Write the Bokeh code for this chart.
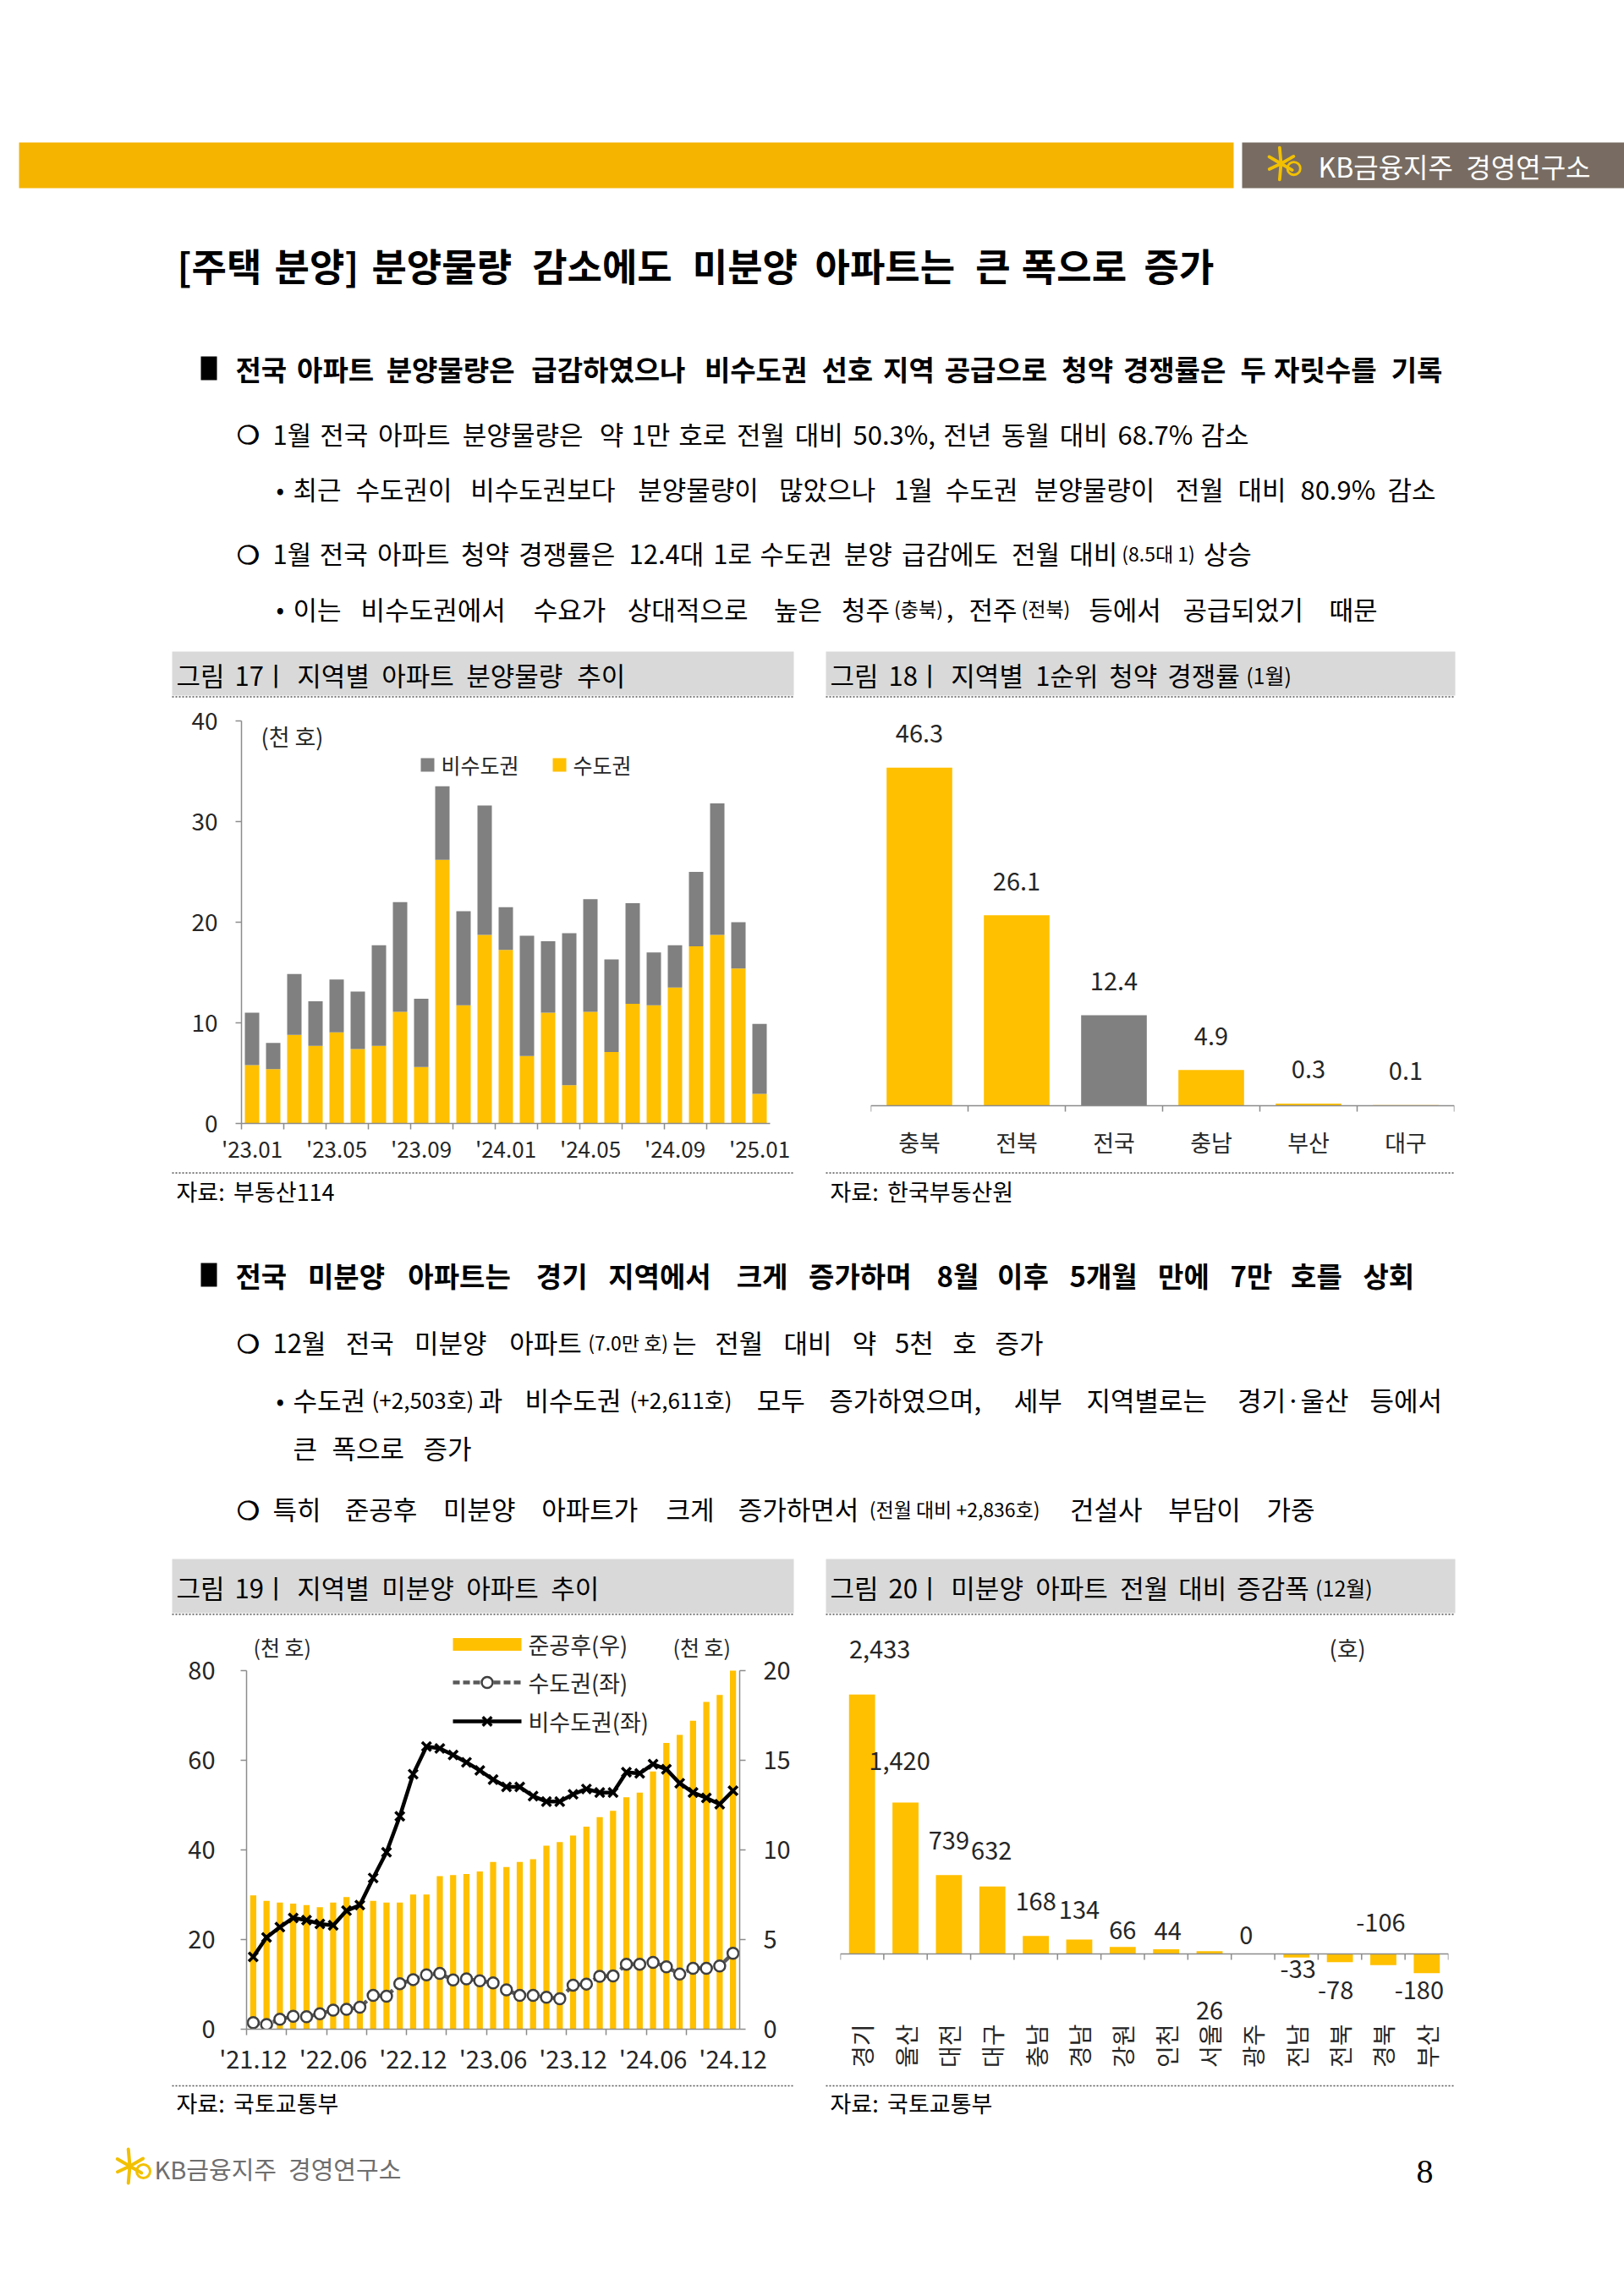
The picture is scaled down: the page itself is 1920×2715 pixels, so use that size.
import math
import numpy as np
from bokeh.plotting import figure
from bokeh.layouts import column, row
from bokeh.models import Range1d, FixedTicker, Span, LinearAxis, ColumnDataSource
from bokeh.core.properties import value
from bokeh.embed import file_html
from bokeh.resources import INLINE

FONT = "Noto Sans CJK KR"
SERIF = "Liberation Serif"
YEL = "#FFC000"
GRY = "#808080"
BAR_YEL = "#F5B400"
LOGO_GRAY = "#786C62"
HEAD_GRAY = "#D9D9D9"
CTXT = "#262626"
AXC = "#8C8C8C"

# ------------------------------------------------------------------ data
c17_months = ["'23.01", "'23.02", "'23.03", "'23.04", "'23.05", "'23.06", "'23.07", "'23.08",
              "'23.09", "'23.10", "'23.11", "'23.12", "'24.01", "'24.02", "'24.03", "'24.04",
              "'24.05", "'24.06", "'24.07", "'24.08", "'24.09", "'24.10", "'24.11", "'24.12", "'25.01"]
c17_series = ["비수도권", "수도권"]
c17_metro = [5.8, 5.4, 8.8, 7.7, 9.05, 7.4, 7.7, 11.1, 5.6, 26.2, 11.75, 18.75, 17.25,
             6.7, 11.0, 3.8, 11.1, 7.1, 11.9, 11.75, 13.5, 17.6, 18.75, 15.4, 2.95]
c17_nonmetro = [5.2, 2.6, 6.05, 4.45, 5.25, 5.7, 10.0, 10.9, 6.8, 7.3, 9.35, 12.85, 4.25,
                11.95, 7.1, 15.1, 11.2, 9.2, 10.0, 5.25, 4.2, 7.4, 13.05, 4.6, 6.95]

c18_regions = ["충북", "전북", "전국", "충남", "부산", "대구"]
c18_values = [46.3, 26.1, 12.4, 4.9, 0.3, 0.1]

c19_months = ["'21.12",
              "'22.01", "'22.02", "'22.03", "'22.04", "'22.05", "'22.06",
              "'22.07", "'22.08", "'22.09", "'22.10", "'22.11", "'22.12",
              "'23.01", "'23.02", "'23.03", "'23.04", "'23.05", "'23.06",
              "'23.07", "'23.08", "'23.09", "'23.10", "'23.11", "'23.12",
              "'24.01", "'24.02", "'24.03", "'24.04", "'24.05", "'24.06",
              "'24.07", "'24.08", "'24.09", "'24.10", "'24.11", "'24.12"]
c19_series = ["준공후(우)", "수도권(좌)", "비수도권(좌)"]
c19_completed = [7.47, 7.16, 7.06, 7.00, 6.92, 6.80, 7.06, 7.37, 7.16, 7.16, 7.06, 7.06, 7.51,
                 7.51, 8.54, 8.60, 8.66, 8.80, 9.33, 9.05, 9.33, 9.48, 10.24, 10.44, 10.80,
                 11.30, 11.83, 12.18, 12.94, 13.20, 14.37, 15.97, 16.42, 17.20, 18.26, 18.64, 21.48]
c19_metro = [1.47, 1.06, 2.21, 2.87, 2.78, 3.44, 4.26, 4.42, 4.91, 7.53, 7.37, 10.16, 11.06,
             12.12, 12.45, 10.98, 11.22, 10.81, 10.32, 8.76, 7.53, 7.53, 7.13, 6.80, 9.83,
             10.07, 11.79, 11.87, 14.50, 14.50, 14.90, 13.92, 12.29, 13.60, 13.60, 14.09, 16.95]
c19_nonmetro = [16.13, 20.47, 22.77, 24.82, 24.33, 23.50, 23.18, 26.45, 27.68, 33.74, 39.48, 47.50, 56.90,
                63.06, 62.65, 61.18, 59.54, 57.74, 55.69, 54.05, 54.05, 52.00, 50.78, 50.78, 52.40,
                53.60, 52.80, 52.80, 57.33, 57.08, 59.13, 58.00, 54.87, 52.80, 51.60, 50.20, 53.20]

c20_regions = ["경기", "울산", "대전", "대구", "충남", "경남", "강원", "인천", "서울", "광주",
               "전남", "전북", "경북", "부산"]
c20_values = [2433, 1420, 739, 632, 168, 134, 66, 44, 26, 0, -33, -78, -106, -180]

# label placement (screen px offsets, style only)
c20_label_dx = [21, -7, 0, -1, 0, 0, 0, 2, 0, -8, 2, -5, -3, -9]
c20_label_dy = [-53, -49, -41, -42, -41, -35, -20, -21, 70, -22, 14, 33, -50, 20]


# ------------------------------------------------------------------ text helpers
def char_w(ch):
    o = ord(ch)
    if 0xAC00 <= o <= 0xD7A3 or 0x3130 <= o <= 0x318F or 0x1100 <= o <= 0x11FF:
        return 1.0
    if ch == " ":
        return 0.224
    if ch.isdigit():
        return 0.58
    if ch in ".,:":
        return 0.28
    if ch in "()[]":
        return 0.34
    if ch == "%":
        return 0.92
    if ch == "+":
        return 0.58
    if ch == "·":
        return 0.28
    if ch == "'":
        return 0.22
    if ch.isupper():
        return 0.62
    return 0.5


def tw(s, size):
    return sum(char_w(c) for c in s) * size


def layout_line(runs, x0, x1=None):
    base = runs[0][1]
    words = [[]]
    for txt, size in runs:
        if size < base:
            words[-1].append((txt, size))
            continue
        parts = txt.split(" ")
        for k, part in enumerate(parts):
            if k > 0:
                words.append([])
            if part:
                words[-1].append((part, size))
    words = [w for w in words if w]
    widths = [sum(tw(t, s) for t, s in w) for w in words]
    if x1 is None or len(words) < 2:
        gap = 0.224 * base
    else:
        gap = (x1 - x0 - sum(widths)) / (len(words) - 1)
        gap = max(gap, 0.2 * base)
    out = []
    x = x0
    for w, wd in zip(words, widths):
        for t, s in w:
            out.append((x, t, s))
            x += tw(t, s)
        x += gap
    return out


def draw_lines(p, lines, color="black"):
    for bold in (False, True):
        xs, ys, ts, fs = [], [], [], []
        for (x0, x1, y, b, runs) in lines:
            if b != bold:
                continue
            for (x, t, s) in layout_line(runs, x0, x1):
                xs.append(x)
                ys.append(y)
                ts.append(t)
                fs.append("%dpx" % s)
        if not xs:
            continue
        src = ColumnDataSource(dict(x=xs, y=ys, text=ts, fs=fs))
        p.text(x="x", y="y", text="text", text_font_size="fs", source=src,
               text_font=value(FONT), text_font_style="bold" if bold else "normal",
               text_color=color, text_align="left", text_baseline="middle")


def deco(x0, x1, y0, y1):
    p = figure(width=x1 - x0, height=y1 - y0, x_range=Range1d(x0, x1), y_range=Range1d(y1, y0),
               x_axis_type=None, y_axis_type=None, output_backend="svg",
               toolbar_location=None, min_border=0)
    p.outline_line_color = None
    p.background_fill_color = "white"
    p.border_fill_color = "white"
    return p


def panel_header(p, x0, x1, ytop, ybot, runs):
    p.quad(left=x0, right=x1, top=ytop, bottom=ybot, fill_color=HEAD_GRAY, line_color=None)
    p.segment(x0=x0, y0=ybot + 1.5, x1=x1, y1=ybot + 1.5, line_dash="2 2",
              line_color="#555555", line_width=1.5)
    draw_lines(p, [(x0 + 5, None, (ytop + ybot) / 2 + 1, False, runs)])


def panel_footer(p, x0, x1, yline, ytext, txt_):
    p.segment(x0=x0, y0=yline, x1=x1, y1=yline, line_dash="2 2", line_color="#555555", line_width=1.5)
    draw_lines(p, [(x0 + 5, None, ytext, False, [(txt_, 27)])])


def kb_star(p, cx, cy, r, color):
    angs = [95, 150, 205, 265, 330, 30]
    lens = [1.0, 0.85, 0.8, 1.0, 0.8, 0.9]
    x1 = [cx + r * l * math.cos(math.radians(a)) for a, l in zip(angs, lens)]
    y1 = [cy - r * l * math.sin(math.radians(a)) for a, l in zip(angs, lens)]
    p.segment(x0=[cx] * 6, y0=[cy] * 6, x1=x1, y1=y1, line_color=color, line_width=r * 0.2,
              line_cap="round")
    p.scatter(x=[cx + 0.8 * r], y=[cy + 0.3 * r], marker="circle", size=r * 0.8,
              fill_color=None, line_color=color, line_width=r * 0.15)


def chart_fig(w, h, xr, yr, bl, br, bt, bb, y_axis=True):
    kw = {} if y_axis else {"y_axis_type": None}
    p = figure(width=w, height=h, x_range=Range1d(*xr), y_range=Range1d(*yr),
               output_backend="svg", toolbar_location=None,
               min_border_left=bl, min_border_right=br, min_border_top=bt, min_border_bottom=bb, **kw)
    p.grid.visible = False
    p.outline_line_color = None
    p.background_fill_color = "white"
    p.border_fill_color = "white"
    return p


def style_axis(ax, size):
    ax.axis_line_color = AXC
    ax.axis_line_width = 1.5
    ax.major_tick_line_color = AXC
    ax.major_tick_line_width = 1.5
    ax.minor_tick_line_color = AXC
    ax.minor_tick_line_width = 1.5
    ax.major_label_text_font = FONT
    ax.major_label_text_font_size = size
    ax.major_label_text_color = CTXT


def txt(p, xs, ys, texts, size, align="left", color=CTXT, style="normal"):
    p.text(x=xs, y=ys, text=texts, text_font=value(FONT), text_font_size=size,
           text_color=color, text_align=align, text_baseline="middle", text_font_style=style)


# page regions (reference pixel coordinates, page has no margin)
PX0, PX1, PMID = 0, 1920, 956
T_Y0, R1_Y0, M_Y0, R2_Y0, B_Y0, B_Y1 = 0, 825, 1380, 1911, 2460, 2712

# ------------------------------------------------------------------ top block
pT = deco(PX0, PX1, T_Y0, R1_Y0)
pT.quad(left=22, right=1458, top=168, bottom=222, fill_color=BAR_YEL, line_color=None)
pT.quad(left=1468, right=1920, top=168, bottom=222, fill_color=LOGO_GRAY, line_color=None)
kb_star(pT, 1514, 193, 19, "#F2C000")
draw_lines(pT, [(1558, None, 195, False, [("KB금융지주 경영연구소", 32)])], color="white")

pT.quad(left=[237], right=[256], top=[421], bottom=[449], fill_color="black", line_color=None)
for yb in (511.5, 653):
    txt(pT, [279], [yb], ["❍"], "30px", color="black", style="bold")
for yb in (577, 718.5):
    txt(pT, [326], [yb], ["•"], "28px", color="black")

draw_lines(pT, [
    (209, 1442, 313, True, [("[주택 분양] 분양물량 감소에도 미분양 아파트는 큰 폭으로 증가", 45)]),
    (278, 1702, 435, True, [("전국 아파트 분양물량은 급감하였으나 비수도권 선호 지역 공급으로 청약 경쟁률은 두 자릿수를 기록", 33)]),
    (322, 1481, 511.5, False, [("1월 전국 아파트 분양물량은 약 1만 호로 전월 대비 50.3%, 전년 동월 대비 68.7% 감소", 31)]),
    (346, 1702, 577, False, [("최근 수도권이 비수도권보다 분양물량이 많았으나 1월 수도권 분양물량이 전월 대비 80.9% 감소", 31)]),
    (322, 1481, 653, False, [("1월 전국 아파트 청약 경쟁률은 12.4대 1로 수도권 분양 급감에도 전월 대비", 31),
                             ("(8.5대 1)", 23), (" 상승", 31)]),
    (346, 1633, 718.5, False, [("이는 비수도권에서 수요가 상대적으로 높은 청주", 31), ("(충북)", 23),
                               (", 전주", 31), ("(전북)", 23), (" 등에서 공급되었기 때문", 31)]),
])
panel_header(pT, 203, 938, 770, 822, [("그림 17ㅣ 지역별 아파트 분양물량 추이", 31)])
panel_header(pT, 976, 1720, 770, 822, [("그림 18ㅣ 지역별 1순위 청약 경쟁률", 31), ("(1월)", 25)])

# ------------------------------------------------------------------ chart 17
n17 = len(c17_months)
FL17, FR17, FT17, FB17, Y40 = 285, 910, 840, 1328, 852
ppu17 = (FB17 - Y40) / 40.0
ppx17 = (FR17 - FL17) / n17
p17 = chart_fig(PMID - PX0, M_Y0 - R1_Y0, (-0.5, n17 - 0.5), (0, (FB17 - FT17) / ppu17),
                FL17 - PX0, PMID - FR17, FT17 - R1_Y0, M_Y0 - FB17)
src17 = ColumnDataSource(dict(x=list(range(n17)), metro=c17_metro, nonmetro=c17_nonmetro))
p17.vbar_stack(["metro", "nonmetro"], x="x", width=0.68, source=src17,
               fill_color=[YEL, GRY], line_color=None)
style_axis(p17.yaxis[0], "28px")
p17.yaxis.ticker = FixedTicker(ticks=[0, 10, 20, 30, 40])
p17.yaxis.bounds = (0, 40)
p17.yaxis.major_tick_out = 7
p17.yaxis.major_tick_in = 0
p17.yaxis.major_label_standoff = 21
ax = p17.xaxis[0]
style_axis(ax, "26px")
ticks17 = list(range(0, n17, 4))
ax.ticker = FixedTicker(ticks=ticks17, minor_ticks=[i - 0.5 for i in range(0, n17 - 1, 2)])
ax.major_label_overrides = {i: c17_months[i] for i in ticks17}
ax.major_tick_line_color = None
ax.major_tick_out = 0
ax.minor_tick_out = 7
ax.minor_tick_in = 0
ax.major_label_standoff = 3


def fx17(px):
    return -0.5 + (px - FL17) / ppx17


def fy17(py):
    return (FB17 - py) / ppu17


txt(p17, [fx17(308)], [fy17(870)], ["(천 호)"], "27px")
p17.scatter(x=[fx17(505), fx17(661)], y=[fy17(904)] * 2, marker="square", size=16,
            fill_color=[GRY, YEL], line_color=None)
txt(p17, [fx17(521), fx17(677)], [fy17(903)] * 2, c17_series, "25px")

# ------------------------------------------------------------------ chart 18
n18 = len(c18_regions)
FL18, FR18, FT18, FB18, Y0_18 = 1029, 1719, FT17, FB17, 1307
ppu18 = 399.7 / 46.3
p18 = chart_fig(PX1 - PMID, M_Y0 - R1_Y0, (-0.5, n18 - 0.5),
                (-(FB18 - Y0_18) / ppu18, (Y0_18 - FT18) / ppu18),
                FL18 - PMID, PX1 - FR18, FT18 - R1_Y0, M_Y0 - FB18, y_axis=False)
colors18 = [GRY if r == "전국" else YEL for r in c18_regions]
src18 = ColumnDataSource(dict(x=list(range(n18)), v=c18_values, c=colors18,
                              lab=["%.1f" % v for v in c18_values]))
p18.vbar(x="x", top="v", bottom=0, width=0.675, fill_color="c", line_color=None, source=src18)
p18.add_layout(Span(location=0, dimension="width", line_color=AXC, line_width=1.5))
p18.segment(x0=[i - 0.5 for i in range(n18 + 1)], y0=0, x1=[i - 0.5 for i in range(n18 + 1)],
            y1=-7 / ppu18, line_color=AXC, line_width=1.5)
p18.text(x="x", y="v", text="lab", source=src18, y_offset=-40, text_font=value(FONT),
         text_font_size="29px", text_color=CTXT, text_align="center", text_baseline="middle")
ax = p18.xaxis[0]
style_axis(ax, "27px")
ax.axis_line_color = None
ax.major_tick_line_color = None
ax.minor_tick_line_color = None
ax.major_tick_out = 0
ax.minor_tick_out = 0
ax.ticker = FixedTicker(ticks=list(range(n18)))
ax.major_label_overrides = {i: c18_regions[i] for i in range(n18)}
ax.major_label_standoff = 2

# ------------------------------------------------------------------ middle block
pM = deco(PX0, PX1, M_Y0, R2_Y0)
panel_footer(pM, 203, 938, 1386.5, 1408, "자료: 부동산114")
panel_footer(pM, 976, 1720, 1386.5, 1408, "자료: 한국부동산원")
pM.quad(left=[237], right=[256], top=[1493], bottom=[1521], fill_color="black", line_color=None)
for yb in (1586, 1783):
    txt(pM, [279], [yb], ["❍"], "30px", color="black", style="bold")
txt(pM, [326], [1654], ["•"], "28px", color="black")
draw_lines(pM, [
    (278, 1677, 1507, True, [("전국 미분양 아파트는 경기 지역에서 크게 증가하며 8월 이후 5개월 만에 7만 호를 상회", 33)]),
    (322, 1238, 1586, False, [("12월 전국 미분양 아파트", 31), ("(7.0만 호)", 23), ("는 전월 대비 약 5천 호 증가", 31)]),
    (346, 1712, 1654, False, [("수도권", 31), ("(+2,503호)", 26), ("과 비수도권", 31), ("(+2,611호)", 26),
                              (" 모두 증가하였으며, 세부 지역별로는 경기·울산 등에서", 31)]),
    (346, 562, 1711, False, [("큰 폭으로 증가", 31)]),
    (322, 1559, 1783, False, [("특히 준공후 미분양 아파트가 크게 증가하면서", 31), ("(전월 대비 +2,836호)", 23),
                              (" 건설사 부담이 가중", 31)]),
])
panel_header(pM, 203, 938, 1843, 1907, [("그림 19ㅣ 지역별 미분양 아파트 추이", 31)])
panel_header(pM, 976, 1720, 1843, 1907, [("그림 20ㅣ 미분양 아파트 전월 대비 증감폭", 31), ("(12월)", 25)])

# ------------------------------------------------------------------ chart 19
n19 = len(c19_months)
FL19, FR19, FT19, FB19, Y80 = 291, 874, 1925, 2399, 1975
LEFT_MAX, RIGHT_MAX = 80, 20
ppu19L = (FB19 - Y80) / LEFT_MAX
ppu19R = (FB19 - Y80) / RIGHT_MAX
ppx19 = (FR19 - FL19) / n19
p19 = chart_fig(PMID - PX0, B_Y0 - R2_Y0, (-0.5, n19 - 0.5), (0, (FB19 - FT19) / ppu19L),
                FL19 - PX0, PMID - FR19, FT19 - R2_Y0, B_Y0 - FB19)
p19.extra_y_ranges = {"right": Range1d(0, (FB19 - FT19) / ppu19R)}
x19 = list(range(n19))
p19.vbar(x=x19, top=np.minimum(np.array(c19_completed), RIGHT_MAX), width=0.46,
         y_range_name="right", fill_color=YEL, line_color=None)
p19.line(x19, c19_metro, line_color="#595959", line_width=4.5, line_dash="8 4")
p19.line(x19, c19_nonmetro, line_color="black", line_width=4.5)
p19.scatter(x19, c19_metro, marker="circle", size=13, fill_color="white",
            line_color="#404040", line_width=2.5)
p19.scatter(x19, c19_nonmetro, marker="x", size=15, line_color="black", line_width=3.5)

style_axis(p19.yaxis[0], "29px")
p19.yaxis.ticker = FixedTicker(ticks=[0, 20, 40, 60, 80])
p19.yaxis.bounds = (0, LEFT_MAX)
p19.yaxis.major_tick_out = 7
p19.yaxis.major_tick_in = 0
p19.yaxis.major_label_standoff = 30
rax = LinearAxis(y_range_name="right", ticker=FixedTicker(ticks=[0, 5, 10, 15, 20]))
style_axis(rax, "29px")
rax.bounds = (0, RIGHT_MAX)
rax.major_tick_out = 7
rax.major_tick_in = 0
rax.major_label_standoff = 21
p19.add_layout(rax, "right")
ax = p19.xaxis[0]
style_axis(ax, "29px")
ticks19 = list(range(0, n19, 6))
ax.ticker = FixedTicker(ticks=ticks19, minor_ticks=[i - 0.5 for i in range(0, n19 - 1, 3)])
ax.major_label_overrides = {i: c19_months[i] for i in ticks19}
ax.major_tick_line_color = None
ax.major_tick_out = 0
ax.minor_tick_out = 7
ax.minor_tick_in = 0
ax.major_label_standoff = 5


def fx19(px):
    return -0.5 + (px - FL19) / ppx19


def fy19(py):
    return (FB19 - py) / ppu19L


LEG_Y = [1944, 1989, 2035]
p19.rect(x=[fx19(575.5)], y=[fy19(LEG_Y[0])], width=81, height=15, width_units="screen",
         height_units="screen", fill_color=YEL, line_color=None)
p19.segment(x0=[fx19(535)], y0=[fy19(LEG_Y[1])], x1=[fx19(616)], y1=[fy19(LEG_Y[1])],
            line_color="#595959", line_width=4.5, line_dash="8 4")
p19.scatter(x=[fx19(575.5)], y=[fy19(LEG_Y[1])], marker="circle", size=13, fill_color="white",
            line_color="#404040", line_width=2.5)
p19.segment(x0=[fx19(535)], y0=[fy19(LEG_Y[2])], x1=[fx19(616)], y1=[fy19(LEG_Y[2])],
            line_color="black", line_width=4.5)
p19.scatter(x=[fx19(575.5)], y=[fy19(LEG_Y[2])], marker="x", size=15, line_color="black", line_width=3.5)
txt(p19, [fx19(624)] * 3, [fy19(y) for y in LEG_Y], c19_series, "27px")
txt(p19, [fx19(299), fx19(795)], [fy19(1946)] * 2, ["(천 호)", "(천 호)"], "25px")

# ------------------------------------------------------------------ chart 20
n20 = len(c20_regions)
FL20, FR20, FT20, FB20, Y0_20 = 993, 1712, FT19, FB19, 2310
ppu20 = 306.7 / 2433
ppx20 = (FR20 - FL20) / n20
p20 = chart_fig(PX1 - PMID, B_Y0 - R2_Y0, (-0.5, n20 - 0.5),
                (-(FB20 - Y0_20) / ppu20, (Y0_20 - FT20) / ppu20),
                FL20 - PMID, PX1 - FR20, FT20 - R2_Y0, B_Y0 - FB20, y_axis=False)
src20 = ColumnDataSource(dict(x=list(range(n20)), v=c20_values,
                              lab=["{:,}".format(v) for v in c20_values],
                              dx=c20_label_dx, dy=c20_label_dy))
p20.vbar(x="x", top="v", bottom=0, width=0.6, fill_color=YEL, line_color=None, source=src20)
p20.add_layout(Span(location=0, dimension="width", line_color=AXC, line_width=1.5))
p20.segment(x0=[i - 0.5 for i in range(n20 + 1)], y0=0,
            x1=[i - 0.5 for i in range(n20 + 1)], y1=-7 / ppu20, line_color=AXC, line_width=1.5)
p20.text(x="x", y="v", text="lab", x_offset="dx", y_offset="dy", source=src20,
         text_font=value(FONT), text_font_size="29px", text_color=CTXT,
         text_align="center", text_baseline="middle")
ax = p20.xaxis[0]
style_axis(ax, "28px")
ax.axis_line_color = None
ax.major_tick_line_color = None
ax.minor_tick_line_color = None
ax.major_tick_out = 0
ax.minor_tick_out = 0
ax.ticker = FixedTicker(ticks=list(range(n20)))
ax.major_label_overrides = {i: c20_regions[i] for i in range(n20)}
ax.major_label_orientation = math.pi / 2
ax.major_label_standoff = -6
txt(p20, [-0.5 + (1571 - FL20) / ppx20], [(Y0_20 - 1948) / ppu20], ["(호)"], "27px")

# ------------------------------------------------------------------ bottom block
pB = deco(PX0, PX1, B_Y0, B_Y1)
panel_footer(pB, 203, 938, 2466, 2486, "자료: 국토교통부")
panel_footer(pB, 976, 1720, 2466, 2486, "자료: 국토교통부")
kb_star(pB, 153, 2561, 20, "#F2C000")
draw_lines(pB, [(182, None, 2563, False, [("KB금융지주 경영연구소", 29)])], color="#6E6E6E")
pB.text(x=[1684], y=[2567], text=["8"], text_font=value(SERIF), text_font_size="40px",
        text_color="black", text_align="center", text_baseline="middle")

layout = column(pT, row(p17, p18, spacing=0), pM, row(p19, p20, spacing=0), pB, spacing=0)
open("out.html", "w").write(file_html(layout, INLINE))
